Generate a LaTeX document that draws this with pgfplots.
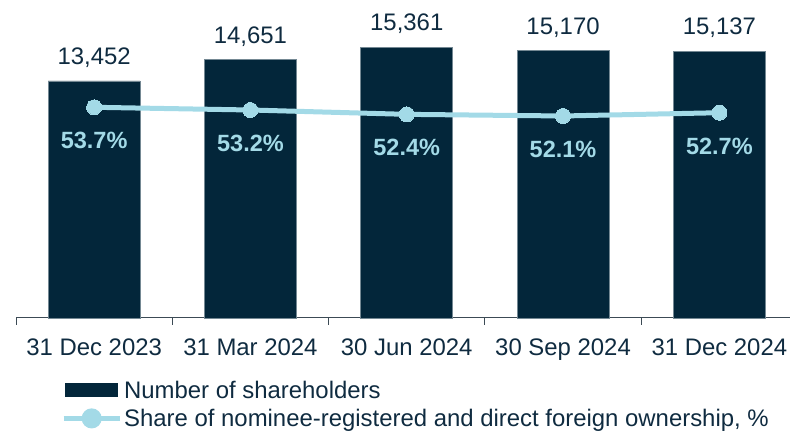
\documentclass[border=0pt]{standalone}
\usepackage{pgfplots}
\pgfplotsset{compat=1.18}
\usepackage{fontspec}
\setmainfont{Liberation Sans}
\definecolor{navy}{HTML}{03263A}
\definecolor{navytext}{HTML}{0F2B40}
\definecolor{lblue}{HTML}{A3DAE7}
\definecolor{axisgray}{HTML}{3C4A55}
\newcommand{\bigf}{\fontsize{24}{28}\selectfont}
\newcommand{\pctf}{\fontsize{23.6}{28}\selectfont\bfseries}
\begin{document}
\begin{tikzpicture}[font=\bigf]
\useasboundingbox (0bp,0bp) rectangle (790bp,432bp);
\begin{axis}[
  at={(16bp,114bp)}, anchor=south west,
  scale only axis, width=774bp, height=282bp,
  xmin=-0.5, xmax=4.452, ymin=0, ymax=16000,
  enlarge x limits=false, enlarge y limits=false,
  axis x line*=bottom, axis y line=none, ytick=\empty,
  xtick={0,1,2,3,4},
  xticklabels={31 Dec 2023,31 Mar 2024,30 Jun 2024,30 Sep 2024,31 Dec 2024},
  major x tick style={draw=none},
  minor xtick={-0.5,0.5,1.5,2.5,3.5},
  minor tick length=7bp, tick align=outside,
  minor x tick style={axisgray, line width=1bp},
  x axis line style={axisgray, line width=1bp},
  xticklabel style={text=navytext, font=\bigf, anchor=base, yshift=-33.5bp},
  ybar, bar width=92bp,
  nodes near coords, point meta=explicit symbolic,
  every node near coord/.append style={text=navytext, font=\bigf, anchor=base, yshift=16.5bp},
  clip=false,
]
\addplot[fill=navy, draw=navy!55!white, line width=0.6bp] coordinates {
  (0,13452) [{13,452}]
  (1,14651) [{14,651}]
  (2,15361) [{15,361}]
  (3,15170) [{15,170}]
  (4,15137) [{15,137}]
};
\end{axis}
\begin{axis}[
  at={(16bp,114bp)}, anchor=south west,
  scale only axis, width=774bp, height=282bp,
  xmin=-0.5, xmax=4.452, ymin=14.95, ymax=66.81,
  hide axis, clip=false,
  legend style={at={(0.0581,-0.2145)}, anchor=north west, draw=none, fill=none,
    font=\bigf, text=navytext, legend cell align=left, inner sep=0pt, row sep=5.5bp},
]
\addlegendimage{legend image code/.code={\fill[navy] (2bp,-6.5bp) rectangle (54bp,6.5bp);}}
\addlegendentry{Number of shareholders}
\addplot[lblue, line width=5bp, mark=*, mark size=7.5bp,
  mark options={fill=lblue, draw=lblue, line width=0pt},
  nodes near coords, point meta=explicit symbolic,
  every node near coord/.append style={text=lblue, font=\pctf, anchor=base, yshift=-41.5bp},
  legend image code/.code={\draw[lblue, line width=5bp] (0bp,0bp) -- (56bp,0bp); \fill[lblue] (28bp,0bp) circle (7.5bp);}]
coordinates {
  (0,53.7) [53.7\%]
  (1,53.2) [53.2\%]
  (2,52.4) [52.4\%]
  (3,52.1) [52.1\%]
  (4,52.7) [52.7\%]
};
\addlegendentry{Share of nominee-registered and direct foreign ownership, \%}
\end{axis}
\end{tikzpicture}
\end{document}
